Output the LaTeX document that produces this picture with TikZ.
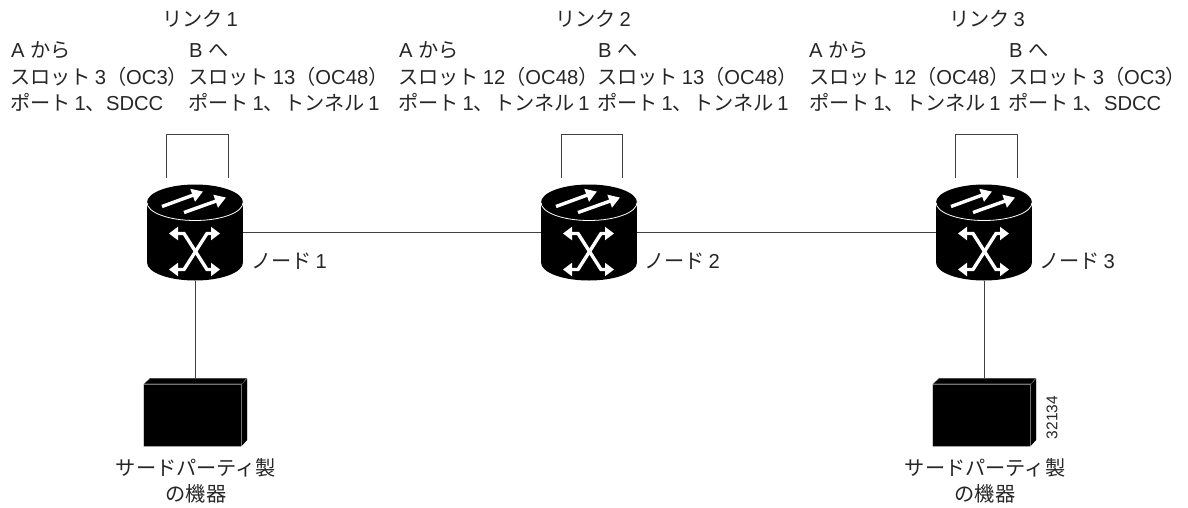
\documentclass[tikz,border=0pt]{standalone}
\usepackage{fontspec}
\setmainfont{Liberation Sans}
\newfontfamily\cjk{Noto Sans CJK JP}
\newcommand{\J}[1]{{\cjk #1}}
\newcommand{\Sp}{\hspace{4pt}}
\usetikzlibrary{arrows.meta}
\tikzset{
  x=1pt,y=-1pt,
  txt/.style={anchor=base west,inner sep=0pt,outer sep=0pt,font=\fontsize{20.2}{24}\selectfont,text=black!85},
  ctr/.style={anchor=base,inner sep=0pt,outer sep=0pt,font=\fontsize{20.2}{24}\selectfont,text=black!85},
  lnk/.style={draw=black!75,line width=0.9pt},
  holder/.style={inner sep=0pt,outer sep=0pt,minimum width=96pt,minimum height=97pt},
  boxholder/.style={inner sep=0pt,outer sep=0pt,minimum width=103pt,minimum height=68pt},
  wh/.style={draw=white,line width=3.4pt},
  whtip/.style={-{Triangle[fill=white,length=11pt,width=13pt]}},
  whtips/.style={{Triangle[fill=white,length=9pt,width=13pt]}-{Triangle[fill=white,length=9pt,width=13pt]}},
  pics/router/.style={code={
    \fill[black] (-48,-30) rectangle (48,30);
    \fill[black] (0,-30) ellipse[x radius=48,y radius=18];
    \fill[black] (0,30) ellipse[x radius=48,y radius=18];
    \draw[white,line width=0.8pt] (-48,-30) arc[start angle=180,end angle=0,x radius=48,y radius=18];
    \draw[wh,whtip] (-33,-26) -- (8,-41);
    \draw[wh,whtip] (-11,-20) -- (31,-35);
    \draw[wh,whtips,line join=miter] (-26,1) -- (-11,1) -- (12,37) -- (25,37);
    \draw[wh,whtips,line join=miter] (25,1) -- (12,1) -- (-11,37) -- (-26,37);
  }},
  pics/gear/.style={code={
    \fill[black!55] (-45,-34) -- (52,-34) -- (52,28) -- (46,34.5) -- (-51.5,34.5) -- (-51.5,-28) -- cycle;
    \fill[black] (-44.5,-33.5) -- (51,-33.5) -- (47,-28.5) -- (-50,-28.5) -- cycle;
    \fill[black] (-51,-27.5) rectangle (46,34);
    \fill[black] (47,-27.5) -- (52,-33) -- (52,28) -- (47,33.5) -- cycle;
  }}
}
\begin{document}
\begin{tikzpicture}
\useasboundingbox (0,0) rectangle (1188,507);
\fill[white] (0,0) rectangle (1188,507);
% routers
\node[holder] (n1) at (195,232.5) {};
\node[holder] (n2) at (589,232.5) {};
\node[holder] (n3) at (984,232.5) {};
\node[boxholder] (b1) at (195,412) {};
\node[boxholder] (b3) at (984,412) {};
% connectors
\draw[lnk] (n1.east) -- (n2.west);
\draw[lnk] (n2.east) -- (n3.west);
\draw[lnk] (n1.south) -- (b1.north);
\draw[lnk] (n3.south) -- (b3.north);
\pic at (n1.center) {router};
\pic at (n2.center) {router};
\pic at (n3.center) {router};
\pic at (b1.center) {gear};
\pic at (b3.center) {gear};
% loops
\foreach \n/\a/\b in {1/166/228,2/561/622,3/955/1017}{
  \coordinate (la\n) at (\a,178);
  \coordinate (lb\n) at (\b,178);
  \draw[lnk] (la\n) -- (\a,134) -- (\b,134) -- (lb\n);
}
% header texts
\node[txt] (h1) at (162,26) {\J{リンク}\Sp 1};
\node[txt] (h2) at (555,26) {\J{リンク}\Sp 2};
\node[txt] (h3) at (949,26) {\J{リンク}\Sp 3};
\node[txt] (a1) at (11,57) {A \J{から}};
\node[txt] (c1) at (189,57) {B \J{へ}};
\node[txt] (a2) at (399,57) {A \J{から}};
\node[txt] (c2) at (598,57) {B \J{へ}};
\node[txt] (a3) at (809,57) {A \J{から}};
\node[txt] (c3) at (1009,57) {B \J{へ}};
\node[txt] (s1) at (10,84) {\J{スロット}\Sp 3\J{（}OC3\J{）}};
\node[txt] (t1) at (188,84) {\J{スロット}\Sp 13\J{（}OC48\J{）}};
\node[txt] (s2) at (398,84) {\J{スロット}\Sp 12\J{（}OC48\J{）}};
\node[txt] (t2) at (597,84) {\J{スロット}\Sp 13\J{（}OC48\J{）}};
\node[txt] (s3) at (809,84) {\J{スロット}\Sp 12\J{（}OC48\J{）}};
\node[txt] (t3) at (1008,84) {\J{スロット}\Sp 3\J{（}OC3\J{）}};
\node[txt] (p1) at (10,110) {\J{ポート}\Sp 1\J{、}SDCC};
\node[txt] (q1) at (188,110) {\J{ポート}\Sp 1\J{、トンネル}\Sp 1};
\node[txt] (p2) at (398,110) {\J{ポート}\Sp 1\J{、トンネル}\Sp 1};
\node[txt] (q2) at (597,110) {\J{ポート}\Sp 1\J{、トンネル}\Sp 1};
\node[txt] (p3) at (809,110) {\J{ポート}\Sp 1\J{、トンネル}\Sp 1};
\node[txt] (q3) at (1008,110) {\J{ポート}\Sp 1\J{、}SDCC};
% node labels
\node[txt] (l1) at (251,268) {\J{ノード}\Sp 1};
\node[txt] (l2) at (644,268) {\J{ノード}\Sp 2};
\node[txt] (l3) at (1039,268) {\J{ノード}\Sp 3};
% equipment labels
\node[ctr] (e1) at (196,475) {\J{サードパーティ製}};
\node[ctr] (f1) at (196,501) {\J{の機器}};
\node[ctr] (e3) at (985,475) {\J{サードパーティ製}};
\node[ctr] (f3) at (985,501) {\J{の機器}};
\node[inner sep=0pt,rotate=90,font=\fontsize{15.5}{18}\selectfont,text=black!85] (num) at (1052,417.5) {32134};
\end{tikzpicture}
\end{document}
